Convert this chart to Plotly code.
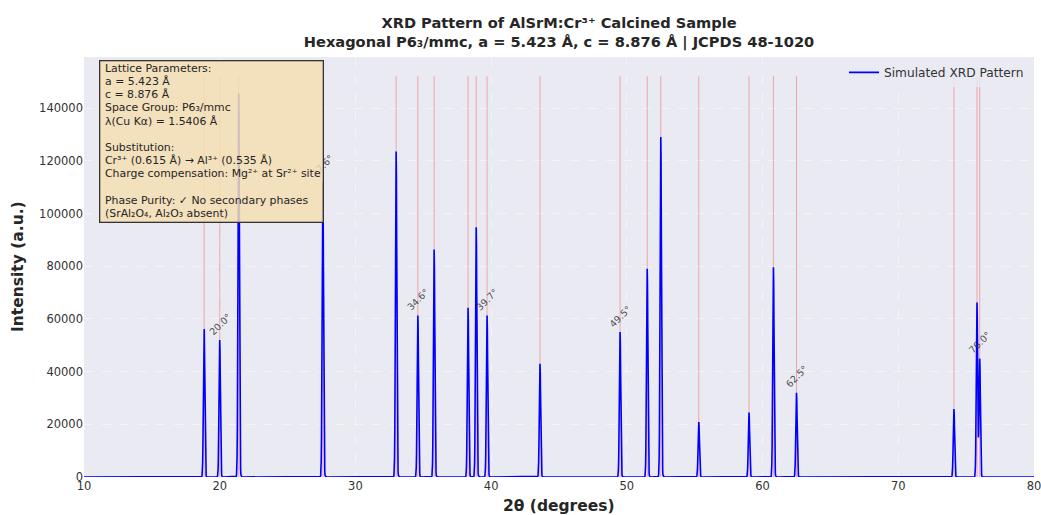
import numpy as np
import plotly.graph_objects as go

# Peak data
peak_pos = [18.85, 20.0, 21.4, 27.6, 33.0, 34.6, 35.8, 38.3, 38.9, 39.7, 43.6,
            49.5, 51.5, 52.5, 55.3, 59.0, 60.8, 62.5, 74.1, 75.8, 76.0]
peak_int = [57300, 52000, 145500, 112000, 123500, 61300, 86300, 64200, 94800, 61300, 43000,
            55000, 79000, 129000, 20900, 24500, 79600, 32000, 25800, 66200, 44900]
labeled_peaks = [20.0, 27.6, 34.6, 39.7, 49.5, 62.5, 76.0]
x_ticks = [10, 20, 30, 40, 50, 60, 70, 80]
y_ticks = [0, 20000, 40000, 60000, 80000, 100000, 120000, 140000]
info_lines = ["Lattice Parameters:", "a = 5.423 Å", "c = 8.876 Å", "Space Group: P6₃/mmc",
              "λ(Cu Kα) = 1.5406 Å", "", "Substitution:", "Cr³⁺ (0.615 Å) → Al³⁺ (0.535 Å)",
              "Charge compensation: Mg²⁺ at Sr²⁺ site", "",
              "Phase Purity: ✓ No secondary phases", "(SrAl₂O₄, Al₂O₃ absent)"]

# Simulated profile (Gaussian broadening of the peak list)
sigma = 0.05
two_theta = np.arange(10, 80.001, 0.02)
intensity = np.zeros_like(two_theta)
for p, i in zip(peak_pos, peak_int):
    intensity += i * np.exp(-((two_theta - p) ** 2) / (2 * sigma ** 2))

vline_top = max(peak_int) * 1.045

fig = go.Figure()

vx, vy = [], []
for p in peak_pos:
    vx += [p, p, None]
    vy += [0, vline_top, None]
fig.add_trace(go.Scatter(x=vx, y=vy, mode="lines",
                         line=dict(color="rgba(255,0,0,0.3)", width=1),
                         showlegend=False, hoverinfo="skip"))

fig.add_trace(go.Scatter(x=two_theta, y=intensity, mode="lines",
                         line=dict(color="#0000FF", width=1.6),
                         name="Simulated XRD Pattern"))

# plot area geometry (pixels) for paper conversions
PL, PT, PW, PH = 84, 57, 950, 420
def px(xp): return (xp - PL) / PW
def py(yp): return (PT + PH - yp) / PH

annotations = []
for p, i in zip(peak_pos, peak_int):
    if p in labeled_peaks:
        annotations.append(dict(x=p, y=i, xref="x", yref="y",
                                text=f"{p:.1f}°", showarrow=False, textangle=-45,
                                xanchor="center", yanchor="bottom",
                                font=dict(family="DejaVu Sans", size=9.5, color="rgba(45,45,45,0.85)")))

# info box background
annotations.append(dict(x=px(99), y=py(60), xref="paper", yref="paper",
                        text=" ", showarrow=False, width=222, height=160,
                        xanchor="left", yanchor="top", borderpad=0,
                        bgcolor="rgba(245,222,179,0.85)", bordercolor="#333333",
                        borderwidth=1.3, font=dict(size=10)))
for k, line in enumerate(info_lines):
    if line:
        annotations.append(dict(x=px(102.5), y=py(68.3 + 13.2 * k), xref="paper", yref="paper",
                                text=line, showarrow=False, align="left",
                                xanchor="left", yanchor="middle",
                                font=dict(family="DejaVu Sans", size=10.9, color="#262626")))

# axis titles
annotations.append(dict(x=0.5, y=py(506), xref="paper", yref="paper",
                        text="<b>2θ (degrees)</b>", showarrow=False,
                        xanchor="center", yanchor="middle",
                        font=dict(family="DejaVu Sans", size=15.5, color="#262626")))
annotations.append(dict(x=px(18), y=0.5, xref="paper", yref="paper",
                        text="<b>Intensity (a.u.)</b>", showarrow=False, textangle=-90,
                        xanchor="center", yanchor="middle",
                        font=dict(family="DejaVu Sans", size=15.5, color="#262626")))

fig.update_layout(
    width=1041, height=515,
    margin=dict(l=84, r=7, t=57, b=38, autoexpand=False),
    paper_bgcolor="white",
    plot_bgcolor="#EAEAF2",
    hovermode=False,
    title=dict(text="<b>XRD Pattern of AlSrM:Cr³⁺ Calcined Sample<br>"
                    "Hexagonal P6₃/mmc, a = 5.423 Å, c = 8.876 Å | JCPDS 48-1020</b>",
               x=0.537, xanchor="center", y=0.946, yref="container", yanchor="middle",
               font=dict(family="DejaVu Sans", size=14.6, color="#262626")),
    xaxis=dict(range=[10, 80], tickvals=x_ticks, showgrid=True, automargin=False,
               gridcolor="rgba(255,255,255,0.6)", griddash="dash", gridwidth=0.8,
               zeroline=False, showline=False, ticks="", ticklabeloverflow="allow",
               tickfont=dict(family="DejaVu Sans", size=11.5, color="#333333")),
    yaxis=dict(range=[0, 159400], tickvals=y_ticks, tickformat="d", showgrid=True,
               automargin=False,
               gridcolor="rgba(255,255,255,0.6)", griddash="dash", gridwidth=0.8,
               zeroline=False, showline=False, ticks="",
               tickfont=dict(family="DejaVu Sans", size=11.5, color="#333333")),
    legend=dict(x=0.8, y=0.998, xanchor="left", yanchor="top",
                bgcolor="rgba(234,234,242,0.8)",
                font=dict(family="DejaVu Sans", size=12.2, color="#333333")),
    annotations=annotations,
    showlegend=True,
)

fig.write_html("out.html", config={"displayModeBar": False, "staticPlot": True},
               post_script="document.body.style.margin='0';")
